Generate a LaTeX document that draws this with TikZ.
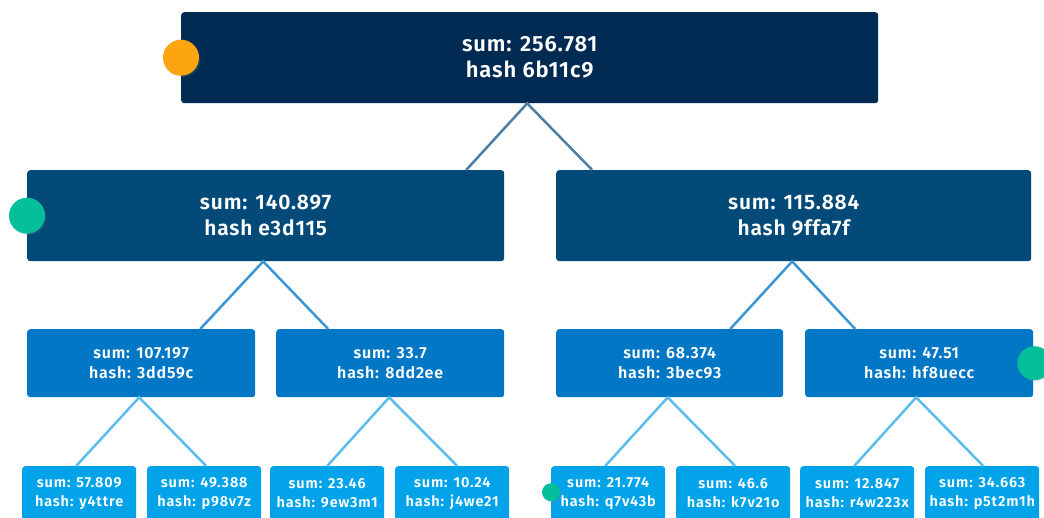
\documentclass[tikz,border=0pt]{standalone}
\usepackage{fontspec}
\setmainfont{Fira Sans}[BoldFont={Fira Sans SemiBold}]
\usetikzlibrary{shadows}

% palette
\definecolor{cRoot}{HTML}{022B54}
\definecolor{cMid}{HTML}{034A79}
\definecolor{cLow}{HTML}{0277C6}
\definecolor{cLeaf}{HTML}{03A3EA}
\definecolor{eRoot}{HTML}{4C7FA6}
\definecolor{eMid}{HTML}{3C95D4}
\definecolor{eLow}{HTML}{5BBDEE}
\definecolor{dotOrange}{HTML}{FCA510}
\definecolor{dotGreen}{HTML}{04BF9A}

\tikzset{
  box/.style={rectangle, rounded corners=3pt, inner sep=0pt, anchor=north west,
    align=center, text=white},
  rootbox/.style={box, fill=cRoot, minimum width=697pt, minimum height=91pt,
    font=\bfseries\addfontfeature{LetterSpace=4}\fontsize{22}{26}\selectfont},
  midbox/.style={box, fill=cMid, minimum height=91pt,
    font=\bfseries\addfontfeature{LetterSpace=4}\fontsize{21}{26}\selectfont},
  lowbox/.style={box, fill=cLow, minimum height=68pt,
    font=\bfseries\addfontfeature{LetterSpace=5}\fontsize{16}{20}\selectfont},
  leafbox/.style={box, fill=cLeaf, minimum width=114pt, minimum height=54pt,
    font=\bfseries\addfontfeature{LetterSpace=6}\fontsize{14.5}{19}\selectfont},
  edge/.style={line width=2.5pt},
  dot/.style={circle, inner sep=0pt, minimum size=#1,
    drop shadow={shadow xshift=1.5pt, shadow yshift=-1.5pt, opacity=0.18}},
}

\begin{document}
\begin{tikzpicture}[x=1pt, y=-1pt]
\useasboundingbox (0,0) rectangle (1044,518);
\clip (0,0) rectangle (1044,518);

% tree levels
\node[rootbox] (root) at (181,12) {sum: 256.781\\hash 6b11c9};

\node[midbox, minimum width=477pt] (ma) at (27,170) {sum: 140.897\\hash e3d115};
\node[midbox, minimum width=475pt] (mb) at (556,170) {sum: 115.884\\hash 9ffa7f};

\node[lowbox, minimum width=228pt] (la) at (27,329)  {sum: 107.197\\hash: 3dd59c};
\node[lowbox, minimum width=228pt] (lb) at (276,329) {sum: 33.7\\hash: 8dd2ee};
\node[lowbox, minimum width=227pt] (lc) at (556,329) {sum: 68.374\\hash: 3bec93};
\node[lowbox, minimum width=228pt] (ld) at (805,329) {sum: 47.51\\hash: hf8uecc};

\node[leafbox] (fa) at (22,466)  {sum: 57.809\\hash: y4ttre};
\node[leafbox] (fb) at (147,466) {sum: 49.388\\hash: p98v7z};
\node[leafbox] (fc) at (270,466) {sum: 23.46\\hash: 9ew3m1};
\node[leafbox] (fd) at (395,466) {sum: 10.24\\hash: j4we21};
\node[leafbox] (fe) at (551,466) {sum: 21.774\\hash: q7v43b};
\node[leafbox] (ff) at (676,466) {sum: 46.6\\hash: k7v21o};
\node[leafbox] (fg) at (800,466) {sum: 12.847\\hash: r4w223x};
\node[leafbox] (fh) at (925,466) {sum: 34.663\\hash: p5t2m1h};

% connectors
\draw[edge, eRoot] ([xshift=200.5pt]ma.north) -- ([xshift=-2.5pt]root.south) -- ([xshift=-201.5pt]mb.north);
\draw[edge, eMid] ([xshift=59pt]la.north) -- ([xshift=-2.5pt]ma.south) -- ([xshift=-62pt]lb.north);
\draw[edge, eMid] ([xshift=60.5pt]lc.north) -- ([xshift=-1.5pt]mb.south) -- ([xshift=-64pt]ld.north);
\draw[edge, eLow] ([xshift=-3pt]fa.north) -- ([xshift=-2pt]la.south) -- ([xshift=2pt]fb.north);
\draw[edge, eLow] (fc.north) -- ([xshift=-1pt]lb.south) -- ([xshift=5pt]fd.north);
\draw[edge, eLow] ([xshift=-3pt]fe.north) -- ([xshift=-2pt]lc.south) -- ([xshift=2pt]ff.north);
\draw[edge, eLow] ([xshift=-3pt]fg.north) -- ([xshift=-3pt]ld.south) -- ([xshift=1pt]fh.north);

% status markers
\node[dot=36pt, fill=dotOrange] (mroot) at (root.west) {};
\node[dot=36pt, fill=dotGreen] (mma) at (ma.west) {};
\node[dot=34pt, fill=dotGreen] (mld) at ([xshift=1pt]ld.east) {};
\node[dot=18pt, fill=dotGreen] (mfe) at ([yshift=1pt]fe.west) {};
\end{tikzpicture}
\end{document}
